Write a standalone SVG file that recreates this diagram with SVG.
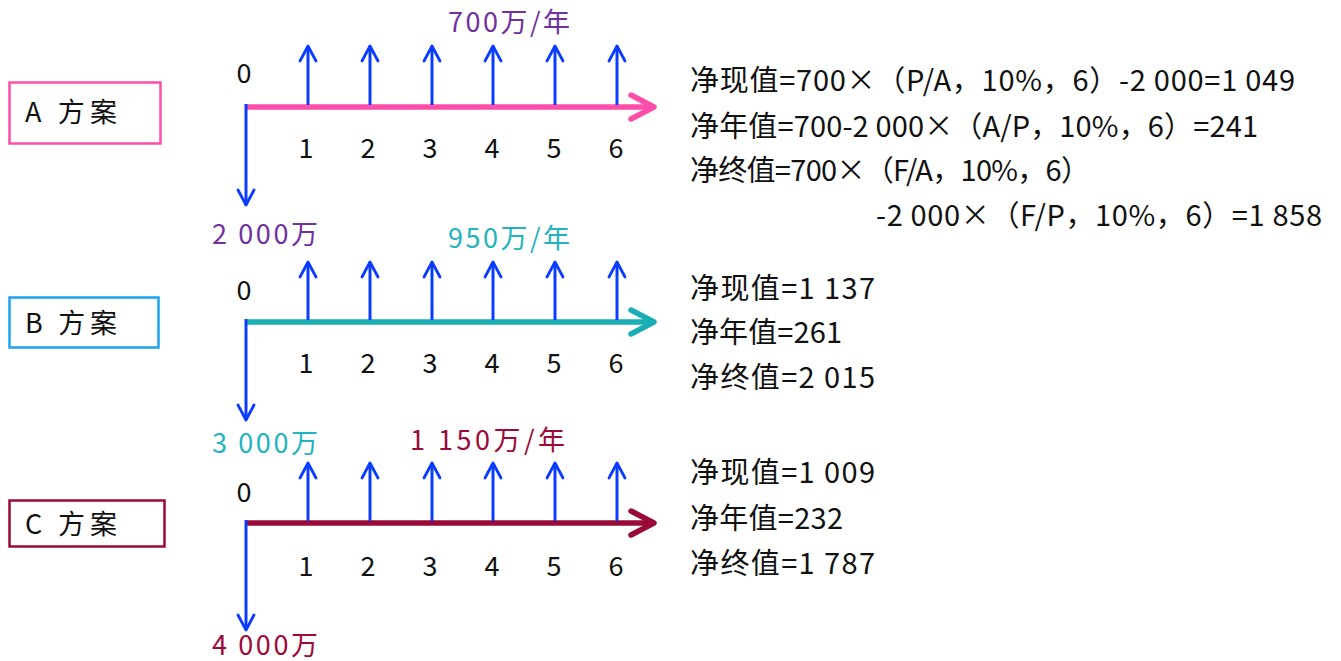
<svg xmlns="http://www.w3.org/2000/svg" width="1341" height="661" viewBox="0 0 1341 661">
<style>
text{font-family:"Noto Sans CJK SC","Liberation Sans",sans-serif;}
.lab{font-size:27px;fill:#111;}
.num{font-size:27px;fill:#111;text-anchor:middle;}
.res{font-size:29px;fill:#111;}
.box{fill:#fff;stroke-width:2.5;}
.flow{stroke:#0A3CFF;stroke-width:3;fill:none;}
.axis{stroke-width:5.5;fill:none;}
.pA{fill:#7030A0;font-size:27px;}
.pB{fill:#22B3BE;font-size:27px;}
.pC{fill:#9B0A38;font-size:27px;}
</style>
<defs>
<marker id="mb" markerUnits="userSpaceOnUse" markerWidth="30" markerHeight="30" viewBox="-20 -15 30 30" refX="0" refY="0" orient="auto" overflow="visible">
<path d="M-15,-8 L0,0 L-15,8" fill="none" stroke="#0A3CFF" stroke-width="2.8" stroke-linecap="round" stroke-linejoin="round"/>
</marker>
<marker id="mA" markerUnits="userSpaceOnUse" markerWidth="40" markerHeight="40" viewBox="-30 -20 40 40" refX="0" refY="0" orient="auto" overflow="visible">
<path d="M-23,-12 L0,0 L-23,12" fill="none" stroke="#FF4DAA" stroke-width="5.5" stroke-linecap="round" stroke-linejoin="round"/>
</marker>
<marker id="mB" markerUnits="userSpaceOnUse" markerWidth="40" markerHeight="40" viewBox="-30 -20 40 40" refX="0" refY="0" orient="auto" overflow="visible">
<path d="M-23,-12 L0,0 L-23,12" fill="none" stroke="#1AAEB4" stroke-width="5.5" stroke-linecap="round" stroke-linejoin="round"/>
</marker>
<marker id="mC" markerUnits="userSpaceOnUse" markerWidth="40" markerHeight="40" viewBox="-30 -20 40 40" refX="0" refY="0" orient="auto" overflow="visible">
<path d="M-23,-12 L0,0 L-23,12" fill="none" stroke="#990A36" stroke-width="5.5" stroke-linecap="round" stroke-linejoin="round"/>
</marker>
</defs>
<rect width="1341" height="661" fill="#fff"/>

<g id="box-A"><rect class="box" x="9.5" y="82.5" width="151" height="61" stroke="#FF4DAA"/><text class="lab" x="25" y="122" textLength="92">A 方案</text></g>
<g id="box-B"><rect class="box" x="9.5" y="297.5" width="149" height="50" stroke="#1AA3F0"/><text class="lab" x="25" y="333" textLength="92">B 方案</text></g>
<g id="box-C"><rect class="box" x="9.5" y="500.5" width="155" height="46" stroke="#9B0A38"/><text class="lab" x="25" y="534" textLength="92">C 方案</text></g>

<g id="connectors">
<line class="axis" stroke="#FF4DAA" x1="246" y1="107" x2="654" y2="107" marker-end="url(#mA)"/>
<line class="axis" stroke="#1AAEB4" x1="246" y1="322" x2="654" y2="322" marker-end="url(#mB)"/>
<line class="axis" stroke="#990A36" x1="246" y1="523" x2="654" y2="523" marker-end="url(#mC)"/>
<g class="flow">
<line x1="246" y1="104" x2="246" y2="205" marker-end="url(#mb)"/>
<line x1="246" y1="319" x2="246" y2="420" marker-end="url(#mb)"/>
<line x1="246" y1="520" x2="246" y2="630" marker-end="url(#mb)"/>
<line x1="308" y1="105" x2="308" y2="46" marker-end="url(#mb)"/>
<line x1="370" y1="105" x2="370" y2="46" marker-end="url(#mb)"/>
<line x1="432" y1="105" x2="432" y2="46" marker-end="url(#mb)"/>
<line x1="493" y1="105" x2="493" y2="46" marker-end="url(#mb)"/>
<line x1="555" y1="105" x2="555" y2="46" marker-end="url(#mb)"/>
<line x1="617" y1="105" x2="617" y2="46" marker-end="url(#mb)"/>
<line x1="308" y1="320" x2="308" y2="262" marker-end="url(#mb)"/>
<line x1="370" y1="320" x2="370" y2="262" marker-end="url(#mb)"/>
<line x1="432" y1="320" x2="432" y2="262" marker-end="url(#mb)"/>
<line x1="493" y1="320" x2="493" y2="262" marker-end="url(#mb)"/>
<line x1="555" y1="320" x2="555" y2="262" marker-end="url(#mb)"/>
<line x1="617" y1="320" x2="617" y2="262" marker-end="url(#mb)"/>
<line x1="308" y1="521" x2="308" y2="463" marker-end="url(#mb)"/>
<line x1="370" y1="521" x2="370" y2="463" marker-end="url(#mb)"/>
<line x1="432" y1="521" x2="432" y2="463" marker-end="url(#mb)"/>
<line x1="493" y1="521" x2="493" y2="463" marker-end="url(#mb)"/>
<line x1="555" y1="521" x2="555" y2="463" marker-end="url(#mb)"/>
<line x1="617" y1="521" x2="617" y2="463" marker-end="url(#mb)"/>
</g>
</g>

<g id="timeline-A">
<text class="num" x="244" y="83">0</text>
<text class="num" x="306" y="158">1</text><text class="num" x="368" y="158">2</text><text class="num" x="430" y="158">3</text><text class="num" x="492" y="158">4</text><text class="num" x="554" y="158">5</text><text class="num" x="616" y="158">6</text>
<text class="pA" x="448" y="32" textLength="122">700万/年</text>
<text class="pA" x="212" y="244" textLength="106">2 000万</text>
</g>
<g id="timeline-B">
<text class="num" x="244" y="300">0</text>
<text class="num" x="306" y="373">1</text><text class="num" x="368" y="373">2</text><text class="num" x="430" y="373">3</text><text class="num" x="492" y="373">4</text><text class="num" x="554" y="373">5</text><text class="num" x="616" y="373">6</text>
<text class="pB" x="448" y="248" textLength="122">950万/年</text>
<text class="pB" x="212" y="453" textLength="106">3 000万</text>
</g>
<g id="timeline-C">
<text class="num" x="244" y="502">0</text>
<text class="num" x="306" y="576">1</text><text class="num" x="368" y="576">2</text><text class="num" x="430" y="576">3</text><text class="num" x="492" y="576">4</text><text class="num" x="554" y="576">5</text><text class="num" x="616" y="576">6</text>
<text class="pC" x="410" y="450" textLength="155">1 150万/年</text>
<text class="pC" x="212" y="655" textLength="106">4 000万</text>
</g>

<g id="result-A">
<text class="res" x="690" y="91" textLength="605">净现值=700×（P/A，10%，6）-2 000=1 049</text>
<text class="res" x="690" y="137" textLength="568">净年值=700-2 000×（A/P，10%，6）=241</text>
<text class="res" x="690" y="181" textLength="400">净终值=700×（F/A，10%，6）</text>
<text class="res" x="876" y="226" textLength="446">-2 000×（F/P，10%，6）=1 858</text>
</g>
<g id="result-B">
<text class="res" x="690" y="299" textLength="185">净现值=1 137</text>
<text class="res" x="690" y="343" textLength="152">净年值=261</text>
<text class="res" x="690" y="388" textLength="185">净终值=2 015</text>
</g>
<g id="result-C">
<text class="res" x="690" y="483" textLength="185">净现值=1 009</text>
<text class="res" x="690" y="529" textLength="153">净年值=232</text>
<text class="res" x="690" y="574" textLength="185">净终值=1 787</text>
</g>
</svg>
